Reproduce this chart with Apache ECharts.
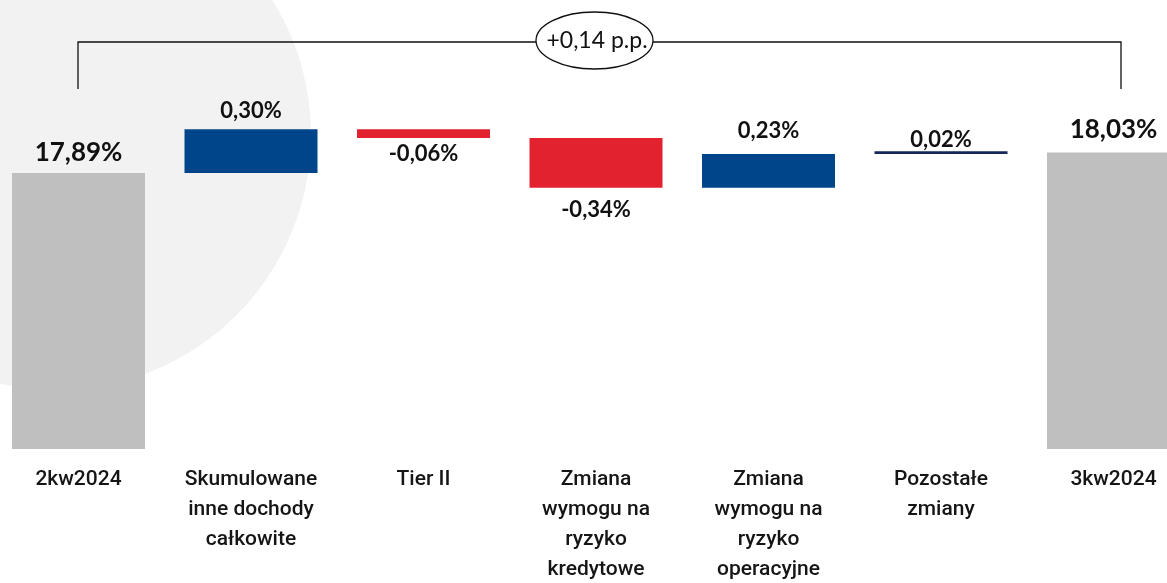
<!DOCTYPE html>
<html>
<head>
<meta charset="utf-8">
<script src="https://cdn.jsdelivr.net/npm/echarts@6/dist/echarts.min.js"></script>
<style>
  html, body { margin: 0; padding: 0; background: #ffffff; }
  #chart { width: 1167px; height: 583px; }
</style>
</head>
<body>
<div id="chart"></div>
<script>
// Capital ratio bridge: opening level, individual drivers, closing level
const categories = [
  '2kw2024',
  'Skumulowane\ninne dochody\ncałkowite',
  'Tier II',
  'Zmiana\nwymogu na\nryzyko\nkredytowe',
  'Zmiana\nwymogu na\nryzyko\noperacyjne',
  'Pozostałe\nzmiany',
  '3kw2024'
];
const startValue = 17.89;
const endValue = 18.03;
const changes = [0.30, -0.06, -0.34, 0.23, 0.02];

// Styling
const TOTAL_COLOR = '#bfbfbf';
const changeColors = ['#00448a', '#e3222f', '#e3222f', '#00448a', '#15275b'];
const labelDistance = [7, 7.5, 5, 11, 12, 0, 10.5];
const LABEL_FONT = 'Lato, "Open Sans", sans-serif';
const CAT_FONT = 'Roboto, "Noto Sans", sans-serif';

function fmt(v, unit) {
  return (v < 0 ? '-' : '') + Math.abs(v).toFixed(2).replace('.', ',') + unit;
}

// Build a stacked waterfall: an invisible base plus the visible segment
const baseData = [];
const barData = [];
let running = startValue;

baseData.push(0);
barData.push({
  value: startValue,
  itemStyle: { color: TOTAL_COLOR },
  label: { position: 'top', distance: labelDistance[0], fontSize: 26, lineHeight: 26, formatter: fmt(startValue, '%') }
});

changes.forEach(function (c, i) {
  const low = c >= 0 ? running : running + c;
  baseData.push(low);
  barData.push({
    value: Math.abs(c),
    itemStyle: { color: changeColors[i] },
    label: {
      position: c >= 0 ? 'top' : 'bottom',
      distance: labelDistance[i + 1],
      formatter: fmt(c, '%')
    }
  });
  running += c;
});

baseData.push(0);
barData.push({
  value: endValue,
  itemStyle: { color: TOTAL_COLOR },
  label: { position: 'top', distance: labelDistance[6], fontSize: 26, lineHeight: 26, formatter: fmt(endValue, '%') }
});

const totalChange = '+' + (endValue - startValue).toFixed(2).replace('.', ',') + ' p.p.';

const chart = echarts.init(document.getElementById('chart'), null, { renderer: 'canvas' });

chart.setOption({
  animation: false,
  backgroundColor: '#ffffff',
  grid: {
    left: -7.75,
    right: -32.75,
    top: 11,
    bottom: 134,
    containLabel: false,
    outerBoundsMode: 'none'
  },
  xAxis: {
    type: 'category',
    data: categories,
    axisLine: { show: false },
    axisTick: { show: false },
    splitLine: { show: false },
    axisLabel: {
      interval: 0,
      margin: 16,
      color: '#151515',
      fontFamily: CAT_FONT,
      fontSize: 21,
      fontWeight: 500,
      lineHeight: 30,
      align: 'center'
    }
  },
  yAxis: {
    type: 'value',
    min: 16,
    max: 19,
    show: false,
    splitLine: { show: false }
  },
  graphic: [
    {
      type: 'circle',
      z: -10,
      silent: true,
      shape: { cx: 56, cy: 135, r: 255 },
      style: { fill: '#f2f2f2' }
    },
    {
      type: 'polyline',
      z: 10,
      silent: true,
      shape: { points: [[78, 89], [78, 42], [1121, 42], [1121, 89]] },
      style: { stroke: '#111111', lineWidth: 1.3, fill: null }
    },
    {
      type: 'ellipse',
      z: 11,
      silent: true,
      shape: { cx: 594.5, cy: 40.5, rx: 58.5, ry: 28.5 },
      style: { fill: '#ffffff', stroke: '#111111', lineWidth: 1.3 }
    },
    {
      type: 'text',
      z: 12,
      silent: true,
      x: 597,
      y: 41,
      style: {
        text: totalChange,
        fill: '#111111',
        font: '23px ' + LABEL_FONT,
        align: 'center',
        verticalAlign: 'middle'
      }
    }
  ],
  series: [
    {
      name: 'base',
      type: 'bar',
      stack: 'bridge',
      barWidth: 133,
      silent: true,
      itemStyle: { color: 'rgba(0,0,0,0)' },
      emphasis: { disabled: true },
      data: baseData
    },
    {
      name: 'value',
      type: 'bar',
      stack: 'bridge',
      barWidth: 133,
      emphasis: { disabled: true },
      label: {
        show: true,
        color: '#111111',
        fontFamily: LABEL_FONT,
        fontWeight: 'bold',
        fontSize: 22,
        lineHeight: 22
      },
      data: barData
    }
  ]
});
</script>
</body>
</html>
